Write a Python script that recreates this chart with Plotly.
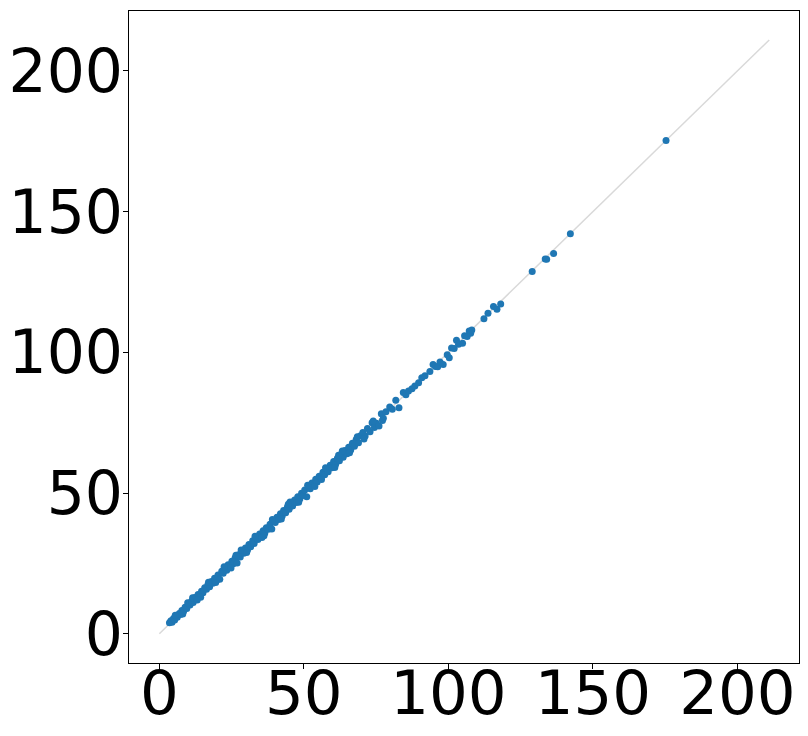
import plotly.graph_objects as go

# Scatter values (x = first measure, y = second measure)
x_vals = [3.5, 4.0, 4.4, 4.9, 5.3, 5.8, 6.2, 6.9, 7.3, 7.8, 8.4, 8.9, 9.5, 10.1, 10.6, 11.2, 11.7, 12.3, 12.9, 13.4,
          14.0, 14.6, 15.1, 15.7, 16.3, 16.8, 17.4, 18.0, 18.5, 19.1, 19.8, 20.3, 20.9, 21.6, 22.1, 22.7, 23.3, 23.8, 24.5, 25.1,
          25.6, 26.2, 26.9, 27.4, 28.0, 28.7, 29.2, 29.8, 30.5, 31.0, 31.6, 32.3, 32.8, 33.4, 34.1, 34.7, 35.2, 35.9, 36.5, 37.0,
          37.7, 38.3, 38.9, 39.4, 40.1, 40.7, 41.3, 41.9, 42.5, 43.0, 43.7, 44.3, 44.9, 45.5, 46.1, 46.8, 47.3, 47.9, 48.6, 49.2,
          49.8, 50.3, 51.0, 51.6, 52.2, 52.8, 53.5, 54.1, 54.6, 55.3, 55.9, 56.6, 57.2, 57.8, 58.4, 59.1, 59.7, 60.3, 61.0, 61.6,
          62.3, 62.9, 63.6, 64.2, 64.9, 65.5, 66.2, 66.8, 67.5, 68.1, 68.9, 69.6, 70.4, 71.2, 72.0, 72.9, 73.6, 74.4, 75.1, 76.0,
          76.8, 77.5, 78.4, 79.7, 80.6, 81.8, 82.9, 84.4, 85.3, 86.2, 87.4, 88.4, 89.7, 90.8, 91.9, 93.6, 94.7, 95.5, 96.3, 97.1,
          98.2, 99.6, 100.3, 101.1, 102.0, 102.8, 103.5, 104.9, 105.6, 106.5, 107.2, 107.7, 108.1, 112.3, 113.7, 115.6, 116.8, 118.1,
          129.0, 133.5, 134.0, 136.4, 142.2, 175.3,
          5.5, 8.1, 11.5, 14.3, 17.0, 19.5, 22.4, 24.8, 28.3, 30.2, 33.1, 36.2, 39.1, 42.2, 45.2, 48.2, 51.3, 53.8,
          57.5, 60.7, 63.3, 65.8, 68.5, 70.8, 74.0, 77.2, 9.8, 13.1, 26.5, 35.5, 44.6, 56.1, 62.0]
y_vals = [3.9, 4.6, 4.1, 5.4, 4.9, 6.3, 5.9, 7.2, 6.8, 8.3, 8.0, 9.4, 9.0, 10.7, 10.2, 11.6, 11.1, 12.9, 12.4, 13.9,
          13.5, 15.1, 14.6, 16.3, 15.8, 17.4, 16.7, 18.6, 17.9, 19.7, 19.0, 20.9, 19.4, 22.2, 21.5, 23.4, 22.6, 24.5, 23.9, 25.8,
          24.9, 26.9, 25.1, 28.1, 27.3, 29.4, 28.6, 30.5, 29.8, 31.7, 30.9, 33.0, 32.1, 34.1, 33.5, 35.4, 34.6, 36.6, 35.8, 37.7,
          37.1, 38.9, 37.2, 40.1, 39.5, 41.4, 40.6, 42.6, 41.8, 43.8, 43.0, 45.0, 44.2, 46.3, 45.4, 47.5, 46.6, 48.7, 47.9, 49.9,
          49.1, 51.1, 48.7, 52.3, 51.5, 53.6, 52.8, 54.9, 53.9, 56.0, 55.2, 57.4, 56.5, 58.6, 57.6, 59.9, 59.0, 61.2, 60.2, 62.4,
          61.5, 63.8, 62.7, 65.1, 64.0, 66.3, 65.3, 67.7, 66.6, 69.0, 67.9, 70.4, 71.5, 70.3, 72.9, 71.8, 75.0, 73.3, 74.8, 73.8,
          78.2, 76.6, 78.9, 80.6, 79.8, 83.0, 80.3, 85.7, 84.9, 86.3, 87.1, 88.0, 89.2, 91.0, 91.7, 93.2, 95.7, 95.0, 94.9, 96.6,
          95.7, 99.1, 98.1, 101.5, 101.4, 104.3, 102.9, 103.2, 105.9, 105.6, 107.6, 106.8, 107.9, 111.9, 113.9, 116.3, 115.3, 117.2,
          128.7, 133.2, 133.1, 135.1, 142.1, 175.3,
          6.6, 7.0, 12.8, 13.0, 18.3, 18.2, 23.8, 23.4, 29.8, 28.9, 34.6, 34.8, 40.6, 40.8, 46.8, 46.7, 52.8, 52.3,
          59.0, 59.1, 64.9, 64.3, 70.0, 69.2, 75.6, 75.8, 11.0, 12.0, 27.9, 34.2, 46.0, 54.8, 63.4]

# identity reference line endpoints
ref_line = [0, 211]
tick_vals = [0, 50, 100, 150, 200]

fig = go.Figure()
fig.add_trace(go.Scatter(x=ref_line, y=ref_line, mode="lines",
                         line=dict(color="#d9d9d9", width=1.5), showlegend=False, hoverinfo="skip"))
fig.add_trace(go.Scatter(x=x_vals, y=y_vals, mode="markers",
                         marker=dict(color="#1f77b4", size=7, line=dict(width=0)), showlegend=False))

axis_common = dict(showgrid=False, zeroline=False, showline=True, mirror=True, linecolor="black", linewidth=1,
                   ticks="outside", ticklen=5, tickwidth=1, tickcolor="black", tickvals=tick_vals,
                   automargin=False)
fig.update_xaxes(range=[-10.5, 221.3], ticklabelstandoff=-28,
                 tickfont=dict(family="DejaVu Sans", size=61, color="black"), **axis_common)
fig.update_yaxes(range=[-10.4, 221.3], ticklabelstandoff=-12,
                 tickfont=dict(family="DejaVu Sans", size=60, color="black"), **axis_common)
fig.update_layout(width=808, height=736, margin=dict(l=121, r=17, t=3, b=81),
                  paper_bgcolor="white", plot_bgcolor="white")
fig.write_html("out.html")
